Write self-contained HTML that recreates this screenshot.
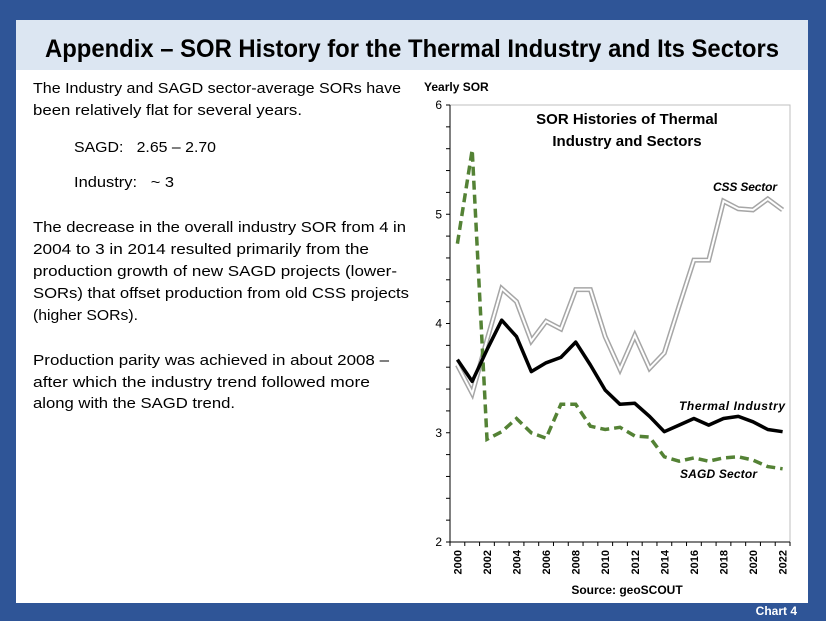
<!DOCTYPE html>
<html><head><meta charset="utf-8"><style>
html,body{margin:0;padding:0;background:#2f5597;}
svg{display:block;font-family:"Liberation Sans",sans-serif;}
.pre{white-space:pre;}
</style></head><body>
<svg width="826" height="621" viewBox="0 0 826 621">
<rect x="0" y="0" width="826" height="621" fill="#2f5597"/>
<rect x="16" y="20" width="792" height="583" fill="#ffffff"/>
<rect x="16" y="20" width="792" height="50" fill="#dce6f2"/>
<text x="45" y="57" font-size="25" font-weight="bold" fill="#000" textLength="734" lengthAdjust="spacingAndGlyphs">Appendix – SOR History for the Thermal Industry and Its Sectors</text>
<g font-size="15" fill="#000">
<text x="33" y="93" textLength="368" lengthAdjust="spacingAndGlyphs">The Industry and SAGD sector-average SORs have</text>
<text x="33" y="115" textLength="269" lengthAdjust="spacingAndGlyphs">been relatively flat for several years.</text>
<text class="pre" xml:space="preserve" x="74" y="152" textLength="142" lengthAdjust="spacingAndGlyphs">SAGD:   2.65 – 2.70</text>
<text class="pre" xml:space="preserve" x="74" y="187" textLength="100" lengthAdjust="spacingAndGlyphs">Industry:   ~ 3</text>
<text x="33" y="232" textLength="373" lengthAdjust="spacingAndGlyphs">The decrease in the overall industry SOR from 4 in</text>
<text x="33" y="254" textLength="336" lengthAdjust="spacingAndGlyphs">2004 to 3 in 2014 resulted primarily from the</text>
<text x="33" y="276" textLength="364" lengthAdjust="spacingAndGlyphs">production growth of new SAGD projects (lower-</text>
<text x="33" y="298" textLength="376" lengthAdjust="spacingAndGlyphs">SORs) that offset production from old CSS projects</text>
<text x="33" y="320" textLength="105" lengthAdjust="spacingAndGlyphs">(higher SORs).</text>
<text x="33" y="365" textLength="356" lengthAdjust="spacingAndGlyphs">Production parity was achieved in about 2008 –</text>
<text x="33" y="387" textLength="337" lengthAdjust="spacingAndGlyphs">after which the industry trend followed more</text>
<text x="33" y="408" textLength="202" lengthAdjust="spacingAndGlyphs">along with the SAGD trend.</text>
</g>
<g id="chart"></g>
<text x="797" y="615" font-size="12" font-weight="bold" fill="#fff" text-anchor="end">Chart 4</text>
</svg>
<script>
const years = ["2000","2001","2002","2003","2004","2005","2006","2007","2008","2009","2010","2011","2012","2013","2014","2015","2016","2017","2018","2019","2020","2021","2022"];
const thermalValues = [3.67,3.47,3.76,4.03,3.88,3.56,3.64,3.69,3.83,3.62,3.39,3.26,3.27,3.15,3.01,3.07,3.13,3.07,3.13,3.15,3.10,3.03,3.01];
const cssValues = [3.62,3.36,3.85,4.32,4.20,3.84,4.02,3.95,4.31,4.31,3.88,3.58,3.89,3.59,3.73,4.16,4.58,4.58,5.12,5.05,5.04,5.14,5.04];
const sagdValues = [4.73,5.59,2.94,3.01,3.13,3.00,2.95,3.26,3.26,3.06,3.03,3.05,2.97,2.96,2.78,2.74,2.77,2.74,2.77,2.78,2.75,2.69,2.67];
const yTicks = [2,3,4,5,6];
const xTickLabels = ["2000","2002","2004","2006","2008","2010","2012","2014","2016","2018","2020","2022"];

const NS="http://www.w3.org/2000/svg";
const g=document.getElementById('chart');
const L=450,R=790,T=105,B=542,yMin=2,yMax=6;
const band=(R-L)/years.length;
function xs(i){return L+band*(i+0.5);}
function ys(v){return B-(v-yMin)/(yMax-yMin)*(B-T);}
function mk(tag,attrs,parent){const e=document.createElementNS(NS,tag);for(const k in attrs)e.setAttribute(k,attrs[k]);(parent||g).appendChild(e);return e;}

const frame=mk('rect',{x:L,y:T,width:R-L,height:B-T,fill:'none',stroke:'#bfbfbf','stroke-width':1});


const ya=mk('line',{x1:L,y1:T,x2:L,y2:B,stroke:'#000','stroke-width':1});


const xa=mk('line',{x1:L,y1:B,x2:R,y2:B,stroke:'#000','stroke-width':1});


for(let v=yMin;v<=yMax+0.001;v+=0.2){
  const t=mk('line',{x1:L-4,x2:L,y1:ys(v),y2:ys(v),stroke:'#000'});
  
  
}
yTicks.forEach(v=>{
  const t=mk('text',{x:L-8,y:ys(v)+4,'font-size':12,'text-anchor':'end',fill:'#000'});
  t.textContent=v;
  
  
});
for(let i=0;i<=years.length;i++){
  const t=mk('line',{x1:L+band*i,x2:L+band*i,y1:B,y2:B+4,stroke:'#000'});
  
  
}
years.forEach((y,i)=>{
  if(xTickLabels.indexOf(y)<0)return;
  const x=xs(i)+4,yy=B+8;
  const t=mk('text',{x:x,y:yy,'font-size':11,'font-weight':'bold','text-anchor':'end',fill:'#000',transform:`rotate(-90 ${x} ${yy})`});
  t.textContent=y;
  
  
});
function pts(arr){return arr.map((v,i)=>xs(i).toFixed(1)+','+ys(v).toFixed(1)).join(' ');}
const c1=mk('polyline',{points:pts(cssValues),fill:'none',stroke:'#a6a6a6','stroke-width':5,'stroke-linejoin':'miter'});


const c2=mk('polyline',{points:pts(cssValues),fill:'none',stroke:'#fff','stroke-width':2});


const s1=mk('polyline',{points:pts(sagdValues),fill:'none',stroke:'#548235','stroke-width':3.5,'stroke-dasharray':'9 5'});


const t1=mk('polyline',{points:pts(thermalValues),fill:'none',stroke:'#000','stroke-width':3.5,'stroke-linejoin':'round'});



function label(txt,x,y,attrs,name){const t=mk('text',Object.assign({x:x,y:y,fill:'#000'},attrs));t.textContent=txt;return t;}
label('Yearly SOR',424,91,{'font-size':12,'font-weight':'bold'},'y-axis-title');
label('SOR Histories of Thermal',627,124,{'font-size':15,'font-weight':'bold','text-anchor':'middle'},'chart-title');
label('Industry and Sectors',627,146,{'font-size':15,'font-weight':'bold','text-anchor':'middle'},'chart-title-line2');
label('CSS Sector',713,191,{'font-size':12,'font-weight':'bold','font-style':'italic',textLength:64},'css-sector-label');
label('Thermal Industry',679,410,{'font-size':12,'font-weight':'bold','font-style':'italic',textLength:106},'thermal-industry-label');
label('SAGD Sector',680,478,{'font-size':12,'font-weight':'bold','font-style':'italic',textLength:77},'sagd-sector-label');
label('Source: geoSCOUT',627,594,{'font-size':12,'font-weight':'bold','text-anchor':'middle'},'source-note');
</script>
</body></html>
